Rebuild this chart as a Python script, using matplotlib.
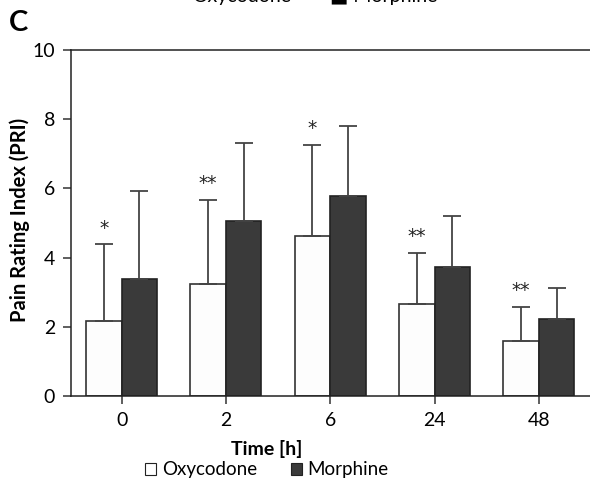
import numpy as np
import matplotlib.pyplot as plt
from matplotlib.patches import Patch

plt.rcParams['font.family'] = ['Lato', 'DejaVu Sans']

# Data
times = ['0', '2', '6', '24', '48']
oxy_mean = [2.17, 3.25, 4.62, 2.66, 1.58]
oxy_top = [4.38, 5.67, 7.25, 4.14, 2.57]
mor_mean = [3.38, 5.06, 5.78, 3.73, 2.24]
mor_top = [5.93, 7.32, 7.81, 5.21, 3.12]
stars = ['*', '**', '*', '**', '**']

x = np.arange(len(times))
w = 0.34
oxy_err = np.array(oxy_top) - np.array(oxy_mean)
mor_err = np.array(mor_top) - np.array(mor_mean)

fig = plt.figure(figsize=(5.9, 4.83), dpi=100)
ax = fig.add_axes([0.1203, 0.1801, 0.8797, 0.7164])

ekw = dict(ecolor='#444444', elinewidth=1.3, capsize=6.5, capthick=1.3)
ax.bar(x - w/2, oxy_mean, w, color='#fdfdfd', edgecolor='#333333', linewidth=1.2,
       yerr=[np.zeros(5), oxy_err], error_kw=ekw, zorder=2)
ax.bar(x + w/2, mor_mean, w, color='#3a3a3a', edgecolor='#222222', linewidth=1.2,
       yerr=[np.zeros(5), mor_err], error_kw=ekw, zorder=2)

for i in range(len(times)):
    ax.text(x[i] - w/2, oxy_top[i] + 0.2, stars[i], ha='center', va='bottom',
            fontsize=13.5, color='#222222', family='DejaVu Sans')

ax.set_xlim(-0.485, 4.49)
ax.set_ylim(0, 10)
ax.set_yticks([0, 2, 4, 6, 8, 10])
ax.set_xticks(x)
ax.set_xticklabels(times)
ax.tick_params(axis='both', labelsize=14, length=6, width=1.1, color='#333333', pad=5.5)
ax.spines['right'].set_visible(False)
for s in ['left', 'bottom', 'top']:
    ax.spines[s].set_linewidth(1.1)
    ax.spines[s].set_color('#222222')

fig.text(0.034, 0.545, 'Pain Rating Index (PRI)', rotation=90, ha='center', va='center',
         fontsize=14.5, fontweight='bold')
fig.text(0.452, 0.071, 'Time [h]', ha='center', va='center', fontsize=14, fontweight='bold')
fig.text(0.031, 0.952, 'C', ha='center', va='center', fontsize=21, fontweight='bold')

# cut-off legend of the panel above
fig.text(0.41, 1.008, 'Oxycodone', ha='center', va='center', fontsize=14)
fig.text(0.65, 1.008, '\u25a0 Morphine', ha='center', va='center', fontsize=14)

handles = [Patch(facecolor='white', edgecolor='#222222', linewidth=0.8, label='Oxycodone'),
           Patch(facecolor='#3a3a3a', edgecolor='#222222', linewidth=0.8, label='Morphine')]
fig.legend(handles=handles, loc='center', bbox_to_anchor=(0.452, 0.027), ncol=2,
           frameon=False, fontsize=13.5, handlelength=0.6, handleheight=0.6,
           handletextpad=0.3, columnspacing=1.8, borderpad=0)

fig.savefig('out.png', dpi=100)
